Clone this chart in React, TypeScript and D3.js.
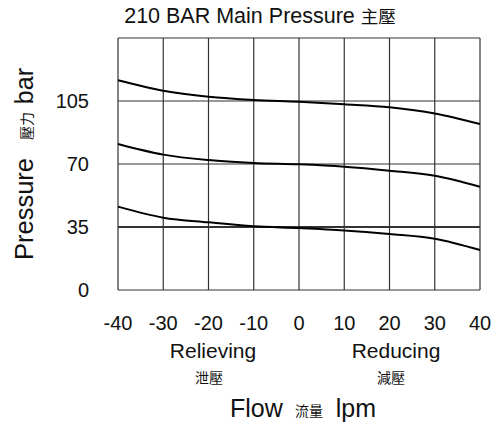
import React from "react";
import * as d3 from "d3";

const flows = [-40, -30, -20, -10, 0, 10, 20, 30, 40];
const curveHigh = [116.5, 110.7, 107.4, 105.6, 104.6, 103.2, 101.5, 98.1, 92.2];
const curveMid = [81.1, 75.2, 72.2, 70.6, 69.8, 68.5, 66.3, 63.5, 57.4];
const curveLow = [46.3, 40.2, 37.6, 35.4, 34.4, 33.1, 31.1, 28.5, 22.2];
const xTicks = [-40, -30, -20, -10, 0, 10, 20, 30, 40];
const yTicks = [0, 35, 70, 105];
const yGrid = [35, 70, 105, 140];

const W = 497;
const H = 423;
const left = 118;
const right = 480;
const top = 38;
const bottom = 290;

export default function App() {
  const x = d3.scaleLinear().domain([-40, 40]).range([left, right]);
  const y = d3.scaleLinear().domain([0, 140]).range([bottom, top]);
  const line = d3
    .line<number>()
    .x((_, i) => x(flows[i]))
    .y((d) => y(d))
    .curve(d3.curveMonotoneX);
  const series = [curveHigh, curveMid, curveLow];
  const font = "'Liberation Sans', Arial, sans-serif";
  const cjk = "'Noto Sans CJK TC', sans-serif";
  return (
    <svg
      width={W}
      height={H}
      style={{ position: "absolute", left: 0, top: 0, background: "#fff" }}
      fontFamily={font}
    >
      <rect x={0} y={0} width={W} height={H} fill="#fff" />
      {xTicks.map((t) => (
        <line key={"vx" + t} x1={x(t)} x2={x(t)} y1={top} y2={bottom} stroke="#333" strokeWidth={1.2} />
      ))}
      {yGrid.map((t) => (
        <line key={"hy" + t} x1={left} x2={right} y1={y(t)} y2={y(t)} stroke="#333" strokeWidth={t === 35 ? 1.8 : 1.2} />
      ))}
      <line x1={left} x2={right} y1={bottom} y2={bottom} stroke="#333" strokeWidth={1.2} />
      {series.map((s, i) => (
        <path key={i} d={line(s) || ""} fill="none" stroke="#000" strokeWidth={2} />
      ))}
      {yTicks.map((t) => (
        <text key={"yt" + t} x={89} y={y(t)} dy="0.35em" textAnchor="end" fontSize={20} fill="#111">
          {t}
        </text>
      ))}
      {xTicks.map((t) => (
        <text key={"xt" + t} x={x(t)} y={330} textAnchor="middle" fontSize={20} fill="#111">
          {t}
        </text>
      ))}
      <text x={260} y={23} textAnchor="middle" fontSize={21.5} fill="#111">
        210 BAR Main Pressure <tspan fontFamily={cjk} fontSize={17.5}>主壓</tspan>
      </text>
      <text x={213} y={358} textAnchor="middle" fontSize={21} fill="#111">Relieving</text>
      <text x={209} y={383} textAnchor="middle" fontSize={14} fill="#111" fontFamily={cjk}>泄壓</text>
      <text x={396} y={358} textAnchor="middle" fontSize={21} fill="#111">Reducing</text>
      <text x={391} y={383} textAnchor="middle" fontSize={14} fill="#111" fontFamily={cjk}>減壓</text>
      <text x={230} y={417} textAnchor="start" fontSize={25} fill="#111">Flow</text>
      <text x={309} y={416} textAnchor="middle" fontSize={14} fill="#111" fontFamily={cjk}>流量</text>
      <text x={376} y={417} textAnchor="end" fontSize={25} fill="#111">lpm</text>
      <g transform="translate(33, 0) rotate(-90)">
        <text x={-260} y={0} textAnchor="start" fontSize={25.5} fill="#111">Pressure</text>
        <text x={-126} y={-1} textAnchor="middle" fontSize={14} fill="#111" fontFamily={cjk}>壓力</text>
        <text x={-68} y={0} textAnchor="end" fontSize={25} fill="#111">bar</text>
      </g>
    </svg>
  );
}
